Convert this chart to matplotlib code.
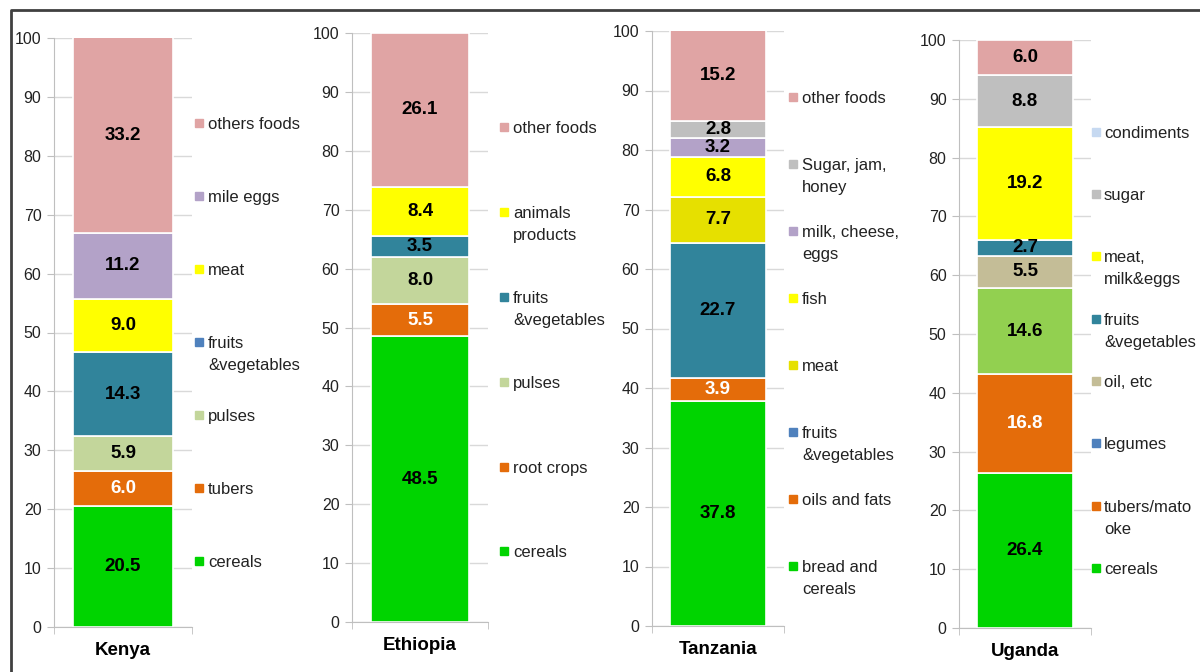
import matplotlib
matplotlib.use('Agg')
from matplotlib import pyplot as plt
from matplotlib import transforms
from matplotlib.lines import Line2D

plt.rcParams['font.family'] = ['Liberation Sans', 'DejaVu Sans']

# colours used in the original workbook
GREEN = '#00D400'
ORANGE = '#E46C0A'
OLIVE = '#C3D69B'
TEAL = '#31849B'
YELLOW = '#FFFF00'
DARKYELLOW = '#E6E000'
LAVENDER = '#B3A2C8'
PINK = '#E0A4A4'
GREY = '#BFBFBF'
TAN = '#C4BD97'
LIGHTGREEN = '#92D050'
BLUE = '#4F81BD'
LIGHTBLUE = '#C6D9F1'

# Kenya (bottom -> top)
kenya_values = [20.5, 6.0, 5.9, 14.3, 9.0, 11.2, 33.2]
kenya_colors = [GREEN, ORANGE, OLIVE, TEAL, YELLOW, LAVENDER, PINK]
kenya_legend = ['others foods', 'mile eggs', 'meat', 'fruits\n&vegetables',
                'pulses', 'tubers', 'cereals']
kenya_legend_colors = [PINK, LAVENDER, YELLOW, BLUE, OLIVE, ORANGE, GREEN]

# Ethiopia
ethiopia_values = [48.5, 5.5, 8.0, 3.5, 8.4, 26.1]
ethiopia_colors = [GREEN, ORANGE, OLIVE, TEAL, YELLOW, PINK]
ethiopia_legend = ['other foods', 'animals\nproducts', 'fruits\n&vegetables',
                   'pulses', 'root crops', 'cereals']
ethiopia_legend_colors = [PINK, YELLOW, TEAL, OLIVE, ORANGE, GREEN]

# Tanzania
tanzania_values = [37.8, 3.9, 22.7, 7.7, 6.8, 3.2, 2.8, 15.2]
tanzania_colors = [GREEN, ORANGE, TEAL, DARKYELLOW, YELLOW, LAVENDER, GREY, PINK]
tanzania_legend = ['other foods', 'Sugar, jam,\nhoney', 'milk, cheese,\neggs', 'fish',
                   'meat', 'fruits\n&vegetables', 'oils and fats', 'bread and\ncereals']
tanzania_legend_colors = [PINK, GREY, LAVENDER, YELLOW, DARKYELLOW, BLUE, ORANGE, GREEN]

# Uganda
uganda_values = [26.4, 16.8, 14.6, 5.5, 2.7, 19.2, 8.8, 6.0]
uganda_colors = [GREEN, ORANGE, LIGHTGREEN, TAN, TEAL, YELLOW, GREY, PINK]
uganda_legend = ['condiments', 'sugar', 'meat,\nmilk&eggs', 'fruits\n&vegetables',
                 'oil, etc', 'legumes', 'tubers/mato\noke', 'cereals']
uganda_legend_colors = [LIGHTBLUE, GREY, YELLOW, TEAL, TAN, BLUE, ORANGE, GREEN]

countries = ['Kenya', 'Ethiopia', 'Tanzania', 'Uganda']

W, H = 1200, 672
fig = plt.figure(figsize=(W/100, H/100), dpi=100)

# layout per panel: axes box in pixels (left, top, right, bottom),
# legend first-entry height (data), pitch (data), marker x and text x (pixels)
panels = [
    (countries[0], kenya_values, kenya_colors, kenya_legend, kenya_legend_colors,
     (54, 38, 192, 627), 85.6, 12.4, 199, 208),
    (countries[1], ethiopia_values, ethiopia_colors, ethiopia_legend, ethiopia_legend_colors,
     (352, 33, 488, 622), 84.0, 14.4, 504, 513),
    (countries[2], tanzania_values, tanzania_colors, tanzania_legend, tanzania_legend_colors,
     (652, 31, 784, 626), 88.9, 11.26, 793, 802),
    (countries[3], uganda_values, uganda_colors, uganda_legend, uganda_legend_colors,
     (959, 40, 1091, 628), 84.4, 10.6, 1096, 1104),
]

for name, values, colors, leg, leg_colors, box, leg_top, pitch, mx, tx in panels:
    l, t, r, b = box
    ax = fig.add_axes([l/W, 1 - b/H, (r - l)/W, (b - t)/H])
    bottom = 0.0
    for v, c in zip(values, colors):
        bars = ax.bar(0, v, width=0.72, bottom=bottom, color=c,
                      edgecolor='white', linewidth=1.2, zorder=2)
        txt_color = 'white' if c == ORANGE else 'black'
        ax.bar_label(bars, labels=['%.1f' % v], label_type='center',
                     color=txt_color, fontsize=13.5, fontweight='bold')
        bottom += v

    ax.set_xlim(-0.5, 0.5)
    ax.set_ylim(0, 100)
    ax.set_yticks(range(0, 101, 10))
    ax.yaxis.grid(True, color='#D9D9D9', linewidth=1)
    ax.set_axisbelow(True)
    for s in ['top', 'right']:
        ax.spines[s].set_visible(False)
    for s in ['left', 'bottom']:
        ax.spines[s].set_color('#BFBFBF')
    ax.tick_params(axis='y', length=5, color='#BFBFBF', labelsize=11.5,
                   labelcolor='#222222', pad=4)
    ax.set_xticks([0], [name])
    ax.set_xticks([-0.5, 0.5], minor=True)
    ax.tick_params(axis='x', which='major', length=0, pad=11)
    ax.tick_params(axis='x', which='minor', length=5, color='#BFBFBF')
    for lbl in ax.get_xticklabels():
        lbl.set_fontweight('bold')
        lbl.set_fontsize(13.5)

    # hand-placed legend, evenly spaced by first line like the original
    trans = transforms.blended_transform_factory(fig.transFigure, ax.transData)
    for i, (lab, lc) in enumerate(zip(leg, leg_colors)):
        y = leg_top - i*pitch
        ax.plot(mx/W, y, marker='s', markersize=5.8, color=lc,
                transform=trans, clip_on=False, linestyle='none')
        for j, line in enumerate(lab.split('\n')):
            ax.annotate(line, xy=(tx/W, y), xycoords=trans,
                        xytext=(0, -22*j), textcoords='offset pixels',
                        fontsize=12, color='#222222',
                        va='center_baseline', ha='left', annotation_clip=False)

# dark frame on top and left of the picture
fig.add_artist(Line2D([11/W, 11/W, 1.0], [0.0, 1 - 10/H, 1 - 10/H],
                      color='#404040', linewidth=2.0, transform=fig.transFigure))

fig.savefig('out.png', dpi=100, facecolor='white')
